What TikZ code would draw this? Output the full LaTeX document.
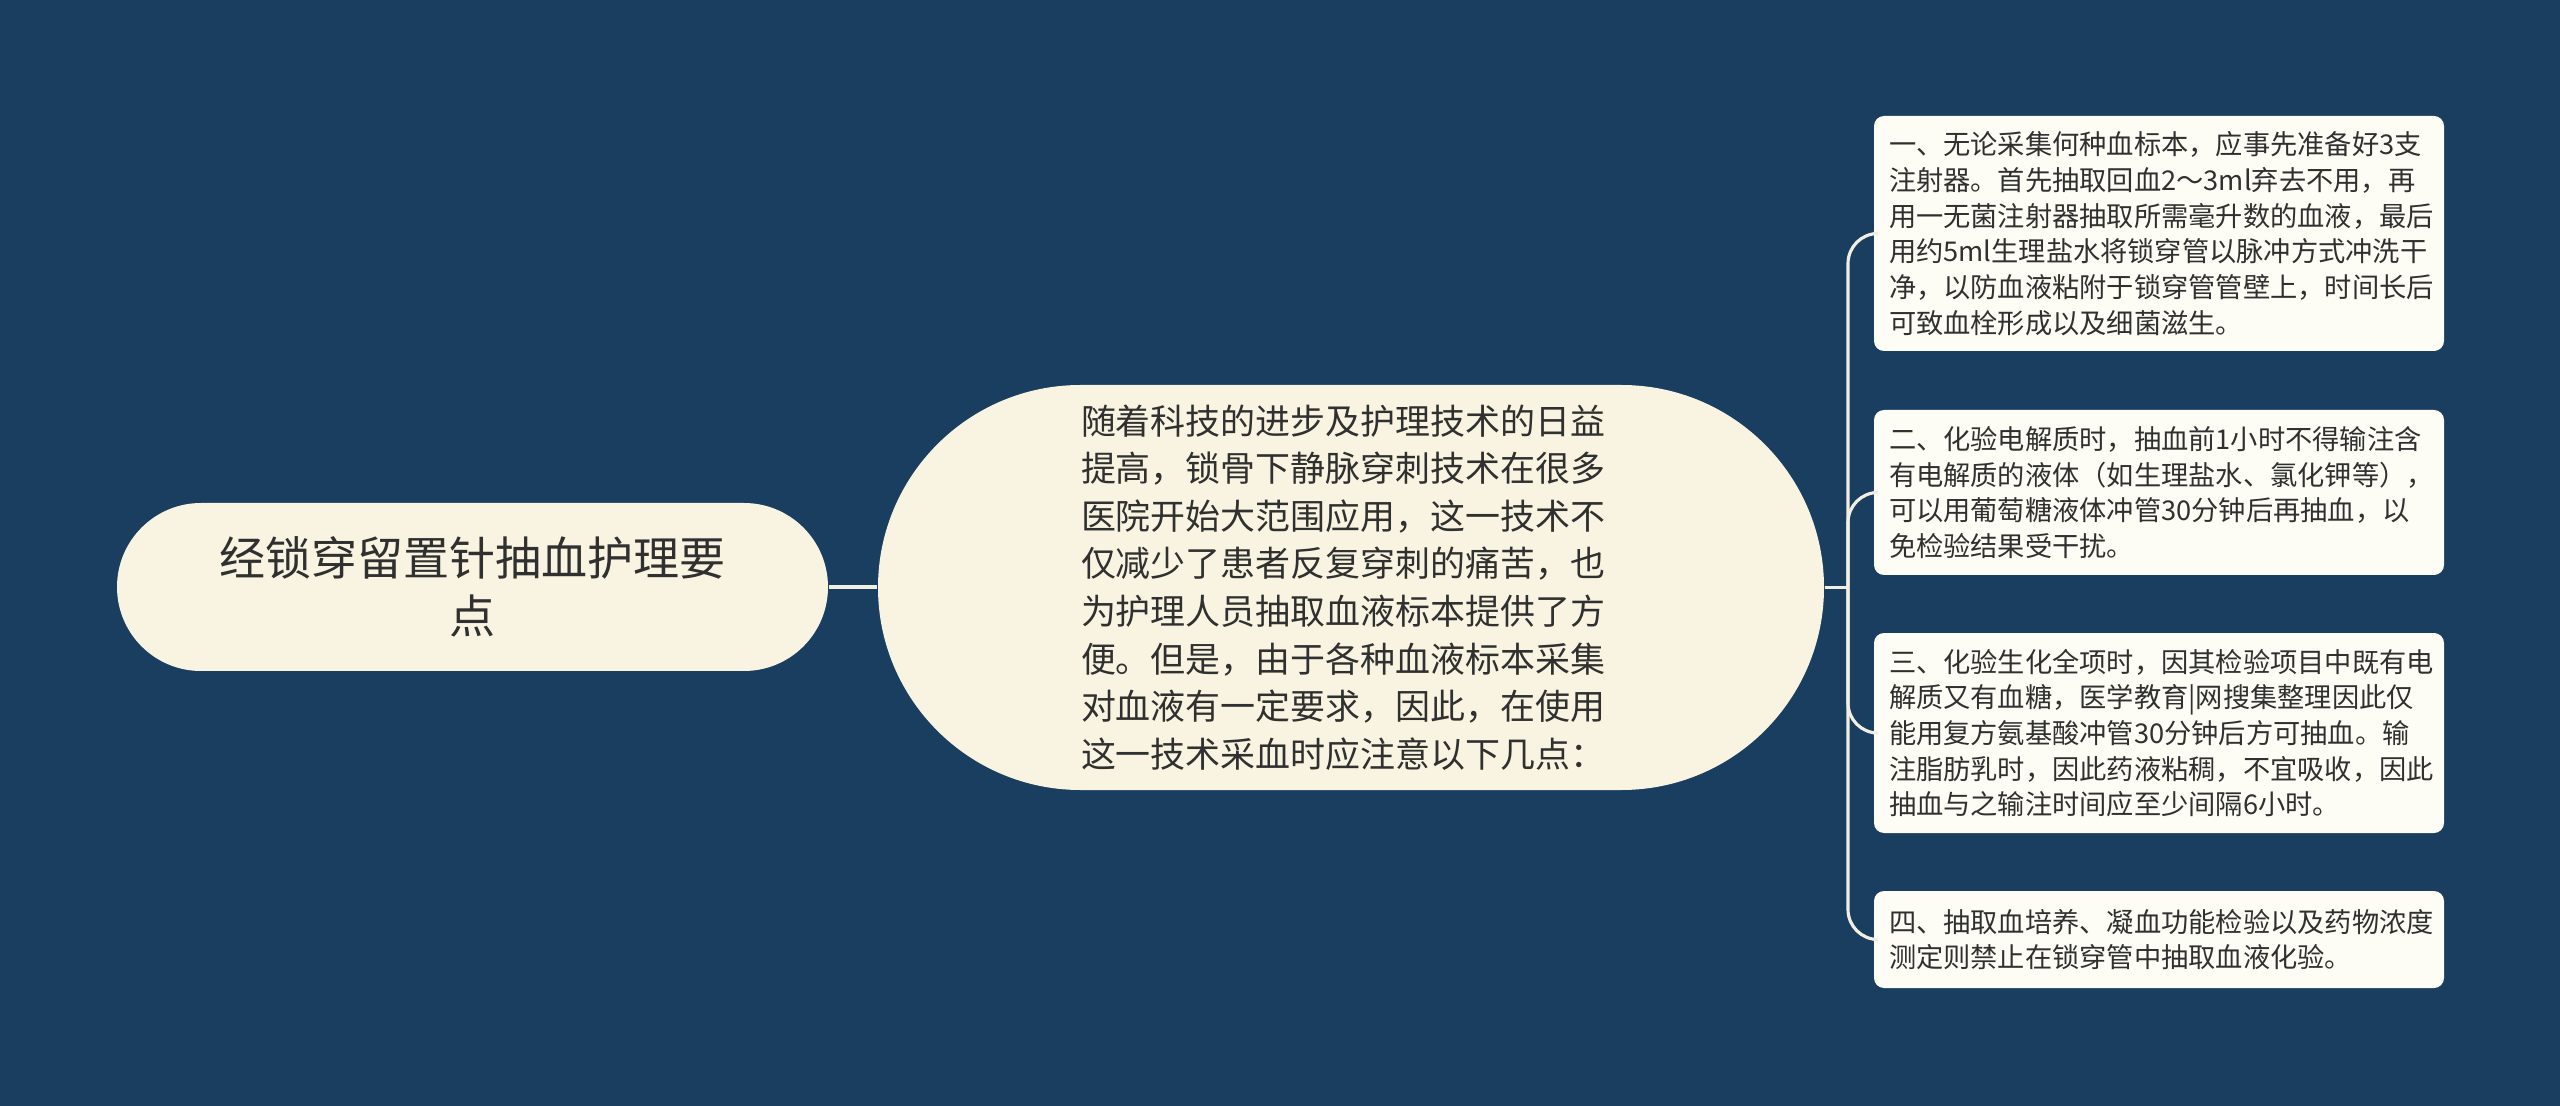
\documentclass[tikz,border=0pt]{standalone}
\usepackage{fontspec}
\setmainfont{Noto Sans CJK SC}
\usepackage{xcolor}
\usepackage{tikz}
\usetikzlibrary{shapes.misc, positioning}

\definecolor{bgblue}{HTML}{1A3E5F}
\definecolor{cream}{HTML}{F8F4E1}
\definecolor{paper}{HTML}{FDFDF6}
\definecolor{ink}{HTML}{303030}
\definecolor{wire}{HTML}{F1EFE2}

\begin{document}
\begin{tikzpicture}
        \fill[bgblue] (0,0) rectangle (25.6,-11.06);
        \useasboundingbox (0,0) rectangle (25.6,-11.06);
        \begin{scope}[every node/.style={fill=cream,text=ink,inner sep=0pt,rounded rectangle}]
          \node[minimum width=7.11cm,minimum height=1.68cm,align=center,
                font=\fontsize{13.1}{16.4}\selectfont] (root) at (4.725,-5.87)
                {经锁穿留置针抽血护理要\\点};
          \node[minimum width=9.46cm,minimum height=4.05cm,text width=5.4cm,align=left,
                font=\fontsize{9.95}{13.55}\selectfont] (intro) at (13.51,-5.875)
                {随着科技的进步及护理技术的日益\\提高，锁骨下静脉穿刺技术在很多\\医院开始大范围应用，这一技术不\\仅减少了患者反复穿刺的痛苦，也\\为护理人员抽取血液标本提供了方\\便。但是，由于各种血液标本采集\\对血液有一定要求，因此，在使用\\这一技术采血时应注意以下几点：};
        \end{scope}
        \begin{scope}[every node/.style={fill=paper,text=ink,rounded corners=0.1cm,
            minimum width=5.7cm,text width=5.4cm,inner xsep=0.15cm,align=left,
            font=\fontsize{7.75}{10.15}\selectfont}]
          \node[minimum height=2.35cm] (p1) at (21.59,-2.335)
                {一、无论采集何种血标本，应事先准备好3支\\注射器。首先抽取回血2～3ml弃去不用，再\\用一无菌注射器抽取所需毫升数的血液，最后\\用约5ml生理盐水将锁穿管以脉冲方式冲洗干\\净，以防血液粘附于锁穿管管壁上，时间长后\\可致血栓形成以及细菌滋生。};
          \node[minimum height=1.65cm] (p2) at (21.59,-4.925)
                {二、化验电解质时，抽血前1小时不得输注含\\有电解质的液体（如生理盐水、氯化钾等），\\可以用葡萄糖液体冲管30分钟后再抽血，以\\免检验结果受干扰。};
          \node[minimum height=2.0cm] (p3) at (21.59,-7.33)
                {三、化验生化全项时，因其检验项目中既有电\\解质又有血糖，医学教育|网搜集整理因此仅\\能用复方氨基酸冲管30分钟后方可抽血。输\\注脂肪乳时，因此药液粘稠，不宜吸收，因此\\抽血与之输注时间应至少间隔6小时。};
          \node[minimum height=0.97cm] (p4) at (21.59,-9.395)
                {四、抽取血培养、凝血功能检验以及药物浓度\\测定则禁止在锁穿管中抽取血液化验。};
        \end{scope}
        \coordinate (fork) at (18.48,-5.875);
        \begin{scope}[every path/.style={draw=wire,line width=0.9pt,rounded corners=0.3cm}]
          \path (root.east) -- (root.east -| intro.west);
          \path (intro.east) -- (fork);
          \path (fork) |- (p1.west);
          \path (fork) |- (p2.west);
          \path (fork) |- (p3.west);
          \path (fork) |- (p4.west);
        \end{scope}
      \end{tikzpicture}
\end{document}
